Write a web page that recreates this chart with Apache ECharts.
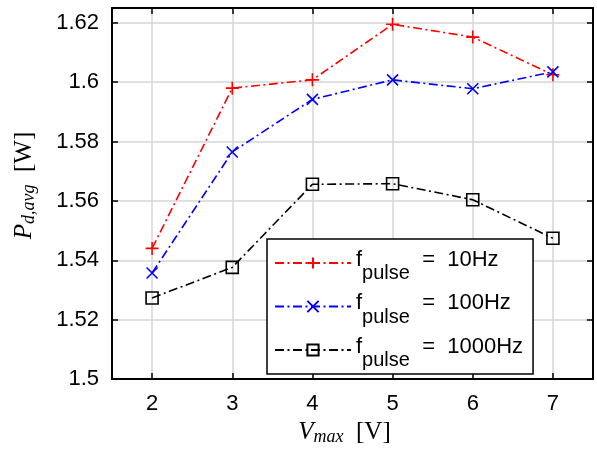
<!DOCTYPE html>
<html>
<head>
<meta charset="utf-8">
<script src="https://cdn.jsdelivr.net/npm/echarts@6/dist/echarts.min.js"></script>
<style>
html,body{margin:0;padding:0;background:#fff;}
#chart{width:597px;height:453px;}
</style>
</head>
<body>
<div id="chart"></div>
<script>
// ---- data ----
const vmax = [2, 3, 4, 5, 6, 7];
const p10 = [1.5440, 1.5980, 1.6008, 1.6195, 1.6152, 1.6025];
const p100 = [1.5357, 1.5765, 1.5942, 1.6008, 1.5978, 1.6035];
const p1000 = [1.5273, 1.5376, 1.5656, 1.5658, 1.5604, 1.5474];
const xTicks = [2, 3, 4, 5, 6, 7];
const legendNames = ['10Hz', '100Hz', '1000Hz'];

const toPairs = (ys) => vmax.map((x, i) => [x, ys[i]]);

const chart = echarts.init(document.getElementById('chart'), null, {renderer: 'canvas'});

const SANS = 'Liberation Sans, Arial, sans-serif';
const SERIF = 'Liberation Serif, Times New Roman, serif';
const dash = [9, 3.5, 2, 3.5];

const plusPath = 'path://M6,0L6,12M0,6L12,6';
const xPath = 'path://M0,0L12,12M0,12L12,0';

function mkSeries(name, ys, color, symbol, size) {
  return {
    name: name,
    type: 'line',
    data: toPairs(ys),
    symbol: symbol,
    symbolSize: size,
    showSymbol: true,
    lineStyle: {color: color, width: 1.6, type: dash},
    itemStyle: {color: 'transparent', borderColor: color, borderWidth: 1.6},
    emphasis: {disabled: true},
    animation: false,
    z: 3
  };
}

const axisCommon = {
  axisLine: {show: true, onZero: false, lineStyle: {color: '#000', width: 2}},
  axisTick: {show: true, inside: true, length: 6, lineStyle: {color: '#000', width: 1.5}}
};

const option = {
  backgroundColor: '#fff',
  animation: false,
  grid: {left: 112, top: 8, width: 481, height: 371},
  xAxis: [
    Object.assign({}, axisCommon, {
      type: 'value', min: 1.5, max: 7.5, position: 'bottom',
      axisTick: Object.assign({}, axisCommon.axisTick, {customValues: xTicks}),
      axisLabel: {customValues: xTicks, fontFamily: SANS, fontSize: 22, color: '#000', margin: 14},
      splitLine: {show: true, lineStyle: {color: '#d6d6d6', width: 1.5}},
      name: '{i|V}{s|max}{r|  [V]}',
      nameLocation: 'middle', nameGap: 34,
      nameTextStyle: {
        padding: [0, 16, 0, 0],
        rich: {
          i: {fontFamily: SERIF, fontStyle: 'italic', fontSize: 25, color: '#000'},
          s: {fontFamily: SERIF, fontStyle: 'italic', fontSize: 18, color: '#000', padding: [10, 0, 0, 0]},
          r: {fontFamily: SERIF, fontSize: 25, color: '#000'}
        }
      }
    }),
    Object.assign({}, axisCommon, {
      type: 'value', min: 1.5, max: 7.5, position: 'top',
      axisTick: Object.assign({}, axisCommon.axisTick, {customValues: xTicks}),
      axisLabel: {show: false},
      splitLine: {show: false}
    })
  ],
  yAxis: [
    Object.assign({}, axisCommon, {
      type: 'value', min: 1.5, max: 1.625, interval: 0.02, position: 'left',
      axisLabel: {fontFamily: SANS, fontSize: 22, color: '#000', margin: 13, showMaxLabel: false},
      splitLine: {show: true, lineStyle: {color: '#d6d6d6', width: 1.5}},
      name: '{i|P}{s|d,avg}{r|  [W]}',
      nameLocation: 'middle', nameGap: 74, nameRotate: 90,
      nameTextStyle: {
        padding: [0, 0, 0, 16],
        rich: {
          i: {fontFamily: SERIF, fontStyle: 'italic', fontSize: 25, color: '#000'},
          s: {fontFamily: SERIF, fontStyle: 'italic', fontSize: 18, color: '#000', padding: [10, 0, 0, 0]},
          r: {fontFamily: SERIF, fontSize: 25, color: '#000'}
        }
      }
    }),
    Object.assign({}, axisCommon, {
      type: 'value', min: 1.5, max: 1.625, interval: 0.02, position: 'right',
      axisLabel: {show: false},
      splitLine: {show: false}
    })
  ],
  legend: {
    orient: 'vertical',
    left: 267, top: 239,
    backgroundColor: '#fff',
    borderColor: '#000', borderWidth: 1.5, borderRadius: 0,
    padding: [3.5, 10, 3.5, 7],
    itemWidth: 76, itemHeight: 14, itemGap: 2.5,
    selectedMode: false,
    data: legendNames.map(n => ({name: n})),
    formatter: function (name) {
      return '{a|f}{b|pulse}{a|  =  ' + name + '}';
    },
    textStyle: {
      rich: {
        a: {fontFamily: SANS, fontSize: 22, color: '#000', verticalAlign: 'top', lineHeight: 28, padding: [6, 0, 0, 0]},
        b: {fontFamily: SANS, fontSize: 20, color: '#000', verticalAlign: 'bottom', lineHeight: 41, padding: [21, 0, 0, 0]}
      }
    }
  },
  series: [
    mkSeries('10Hz', p10, '#ff0000', plusPath, 13),
    mkSeries('100Hz', p100, '#0000ff', xPath, 11),
    mkSeries('1000Hz', p1000, '#000000', 'rect', 12)
  ]
};

chart.setOption(option);
</script>
</body>
</html>
